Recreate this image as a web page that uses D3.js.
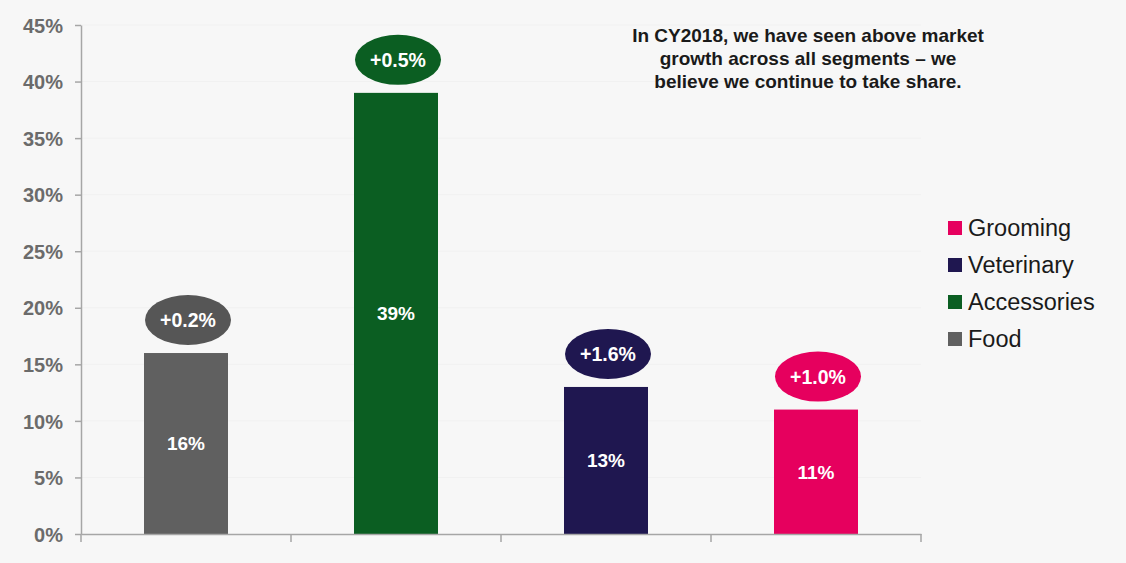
<!DOCTYPE html>
<html>
<head>
<meta charset="utf-8">
<script src="https://cdn.jsdelivr.net/npm/d3@7"></script>
<style>
  html, body { margin: 0; padding: 0; background: #f7f7f7; }
  svg { display: block; font-family: "Liberation Sans", Arial, sans-serif; }
</style>
</head>
<body>
<svg id="chart" width="1126" height="563"></svg>
<script>
// Segment share of sales, CY2018, with growth vs. market
const categories = ["Food", "Accessories", "Veterinary", "Grooming"];
const shares = [16, 39, 13, 11];
const growth = ["+0.2%", "+0.5%", "+1.6%", "+1.0%"];
const barColors = ["#606060", "#0b5e22", "#1f1750", "#e6005e"];
const bubbleColors = ["#565656", "#0b5e22", "#1f1750", "#e6005e"];
const yTicks = [0, 5, 10, 15, 20, 25, 30, 35, 40, 45];
const legendOrder = ["Grooming", "Veterinary", "Accessories", "Food"];
const noteLines = [
  "In CY2018, we have seen above market",
  "growth across all segments \u2013 we",
  "believe we continue to take share."
];

const svg = d3.select("#chart");
const axisColor = "#a6a6a6";

const x = d3.scaleBand().domain(categories).range([81, 921]).padding(0);
const y = d3.scaleLinear().domain([0, 45]).range([534, 25]);

// faint horizontal gridlines
svg.append("g").selectAll("line").data(yTicks.slice(1)).join("line")
  .attr("x1", 81).attr("x2", 921)
  .attr("y1", d => y(d)).attr("y2", d => y(d))
  .attr("stroke", "#f1f1f1").attr("stroke-width", 1);

// y axis
const yAxis = svg.append("g").attr("transform", "translate(81,0)")
  .call(d3.axisLeft(y).tickValues(yTicks).tickFormat(d => d + "%").tickSize(6).tickSizeOuter(0));
yAxis.select(".domain").attr("stroke", axisColor).attr("stroke-width", 1.5);
yAxis.selectAll(".tick line").attr("stroke", axisColor).attr("stroke-width", 1.5);
yAxis.selectAll(".tick text")
  .attr("x", -18).attr("dy", "0.36em")
  .attr("fill", "#6b6b6b").attr("font-size", 20).attr("font-weight", "bold")
  .attr("font-family", "'Liberation Sans', Arial, sans-serif");

// bars
const barW = x.bandwidth() * 0.4;
const cx = d => x(d) + x.bandwidth() / 2;
const rows = categories.map((c, i) => ({ c, v: shares[i], g: growth[i], col: barColors[i], bcol: bubbleColors[i] }));

svg.append("g").selectAll("rect").data(rows).join("rect")
  .attr("x", d => cx(d.c) - barW / 2)
  .attr("y", d => y(d.v))
  .attr("width", barW)
  .attr("height", d => y(0) - y(d.v))
  .attr("fill", d => d.col);

// value labels inside bars
svg.append("g").selectAll("text").data(rows).join("text")
  .attr("x", d => cx(d.c))
  .attr("y", d => (y(d.v) + y(0)) / 2)
  .attr("dy", "0.36em")
  .attr("text-anchor", "middle")
  .attr("fill", "#ffffff").attr("font-size", 19).attr("font-weight", "bold")
  .text(d => d.v + "%");

// growth bubbles above bars
const rx = 43, ry = 25;
const bub = svg.append("g").selectAll("g").data(rows).join("g")
  .attr("transform", d => `translate(${cx(d.c) + 2},${y(d.v) - 8 - ry})`);
bub.append("ellipse").attr("rx", rx).attr("ry", ry).attr("fill", d => d.bcol);
bub.append("text")
  .attr("dy", "0.36em").attr("text-anchor", "middle")
  .attr("fill", "#ffffff").attr("font-size", 19.5).attr("font-weight", "bold")
  .text(d => d.g);

// x axis
const xAxis = svg.append("g").attr("transform", `translate(0,${y(0)})`)
  .call(d3.axisBottom(x).tickFormat("").tickSize(0).tickSizeOuter(0));
xAxis.select(".domain").attr("stroke", axisColor).attr("stroke-width", 1.5);
xAxis.selectAll(".tick").remove();
const boundaries = categories.map(c => x(c)).concat([x.range()[1]]);
xAxis.selectAll("line.sep").data(boundaries).join("line")
  .attr("class", "sep")
  .attr("x1", d => d).attr("x2", d => d)
  .attr("y1", 0).attr("y2", 8)
  .attr("stroke", axisColor).attr("stroke-width", 1.5);

// note
svg.append("text")
  .attr("x", 808).attr("y", 42)
  .attr("text-anchor", "middle")
  .attr("fill", "#1a1a1a").attr("font-size", 19).attr("font-weight", "bold")
  .selectAll("tspan").data(noteLines).join("tspan")
  .attr("x", 808).attr("dy", (d, i) => i === 0 ? 0 : 23)
  .text(d => d);

// legend
const colorOf = c => barColors[categories.indexOf(c)];
const leg = svg.append("g").selectAll("g").data(legendOrder).join("g")
  .attr("transform", (d, i) => `translate(948,${228 + i * 37})`);
leg.append("rect").attr("x", 0).attr("y", -7).attr("width", 14).attr("height", 14)
  .attr("fill", d => colorOf(d));
leg.append("text").attr("x", 20).attr("dy", "0.36em")
  .attr("fill", "#1a1a1a").attr("font-size", 23.5)
  .text(d => d);
</script>
</body>
</html>
